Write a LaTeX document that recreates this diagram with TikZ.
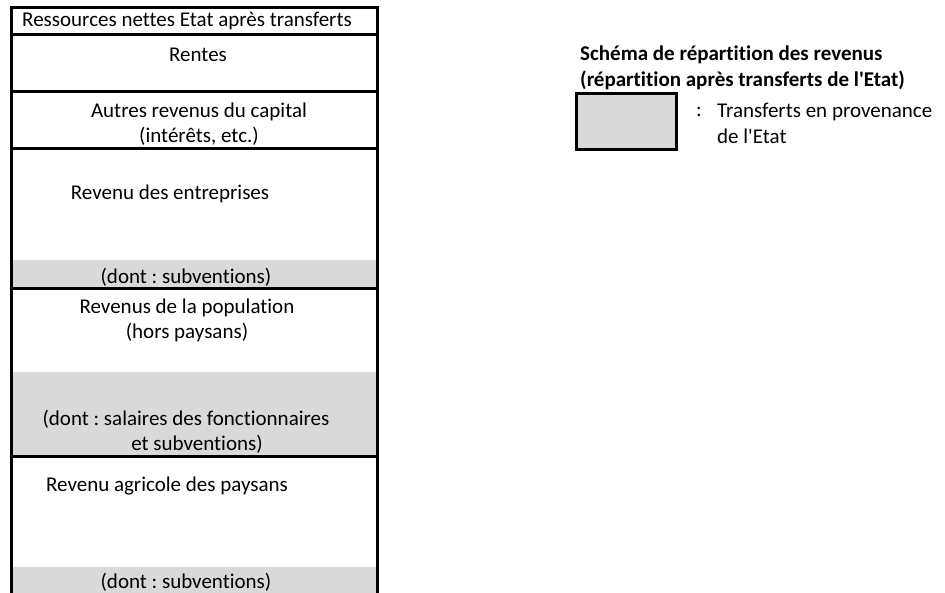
\documentclass[tikz,border=0pt]{standalone}
\usepackage{fontspec}
\setmainfont{Carlito}[Ligatures={NoCommon,TeXOff}]
\definecolor{cellgray}{HTML}{D9D9D9}
\frenchspacing
\begin{document}
\begin{tikzpicture}[x=1pt,y=-1pt,
  txt/.style={inner sep=0pt,font=\fontsize{21}{25}\selectfont},
  ctxt/.style={txt,align=center},
  boldtxt/.style={txt,anchor=west,font=\fontsize{21}{25}\selectfont\bfseries},
  border/.style={line width=3pt},
  grayfill/.style={fill=cellgray,draw=none}]
\useasboundingbox (0,0) rectangle (945,593);
% gray transfer bands
\fill[grayfill] (11.5,260) rectangle (377,289);
\fill[grayfill] (11.5,372) rectangle (377,456);
\fill[grayfill] (11.5,567) rectangle (377,593);
% table frame
\draw[border] (11.5,593) -- (11.5,7.5) -- (377,7.5) -- (377,593);
\draw[border] (11.5,34.5) -- (377,34.5);
\draw[border] (11.5,91.5) -- (377,91.5);
\draw[border] (11.5,149) -- (377,149);
\draw[border] (11.5,289) -- (377,289);
\draw[border] (11.5,456) -- (377,456);
% texts
\node[txt] (res) at (187,21) {Ressources nettes Etat après transferts};
\node[txt] (rentes) at (198,55) {Rentes};
\node[ctxt] (autres) at (199,124) {Autres revenus du capital\\(intérêts, etc.)};
\node[txt] (entr) at (170,194) {Revenu des entreprises};
\node[txt] (sub1) at (186,277) {(dont : subventions)};
\node[ctxt] (pop) at (187,320.5) {Revenus de la population\\(hors paysans)};
\node[ctxt] (sal) at (186,431.5) {(dont : salaires des fonctionnaires\\\hspace*{22pt}et subventions)};
\node[txt] (agri) at (167,486) {Revenu agricole des paysans};
\node[txt] (sub2) at (186,582.5) {(dont : subventions)};
% legend
\node[boldtxt] (t1) at (580,55) {Schéma de répartition des revenus};
\node[boldtxt] (t2) at (580,80) {(répartition après transferts de l'Etat)};
\node[draw,border,fill=cellgray,minimum width=100pt,minimum height=56pt,inner sep=0pt] (leg) at (626.5,121.5) {};
\node[txt,anchor=west] (colon) at (696,112) {:};
\node[txt,anchor=west] (tr1) at (717,112) {Transferts en provenance};
\node[txt,anchor=west] (tr2) at (717,136) {de l'Etat};
\end{tikzpicture}
\end{document}
